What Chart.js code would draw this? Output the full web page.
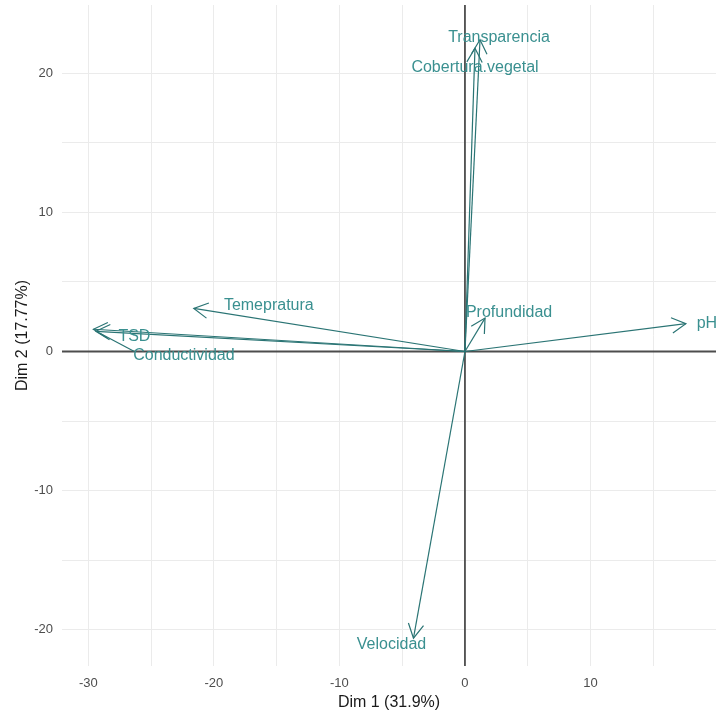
<!DOCTYPE html>
<html>
<head>
<meta charset="utf-8">
<script src="https://cdn.jsdelivr.net/npm/chart.js@4/dist/chart.umd.min.js"></script>
<style>
  body { margin: 0; background: #fff; }
  #chart { display: block; }
</style>
</head>
<body>
<canvas id="chart" width="716" height="713"></canvas>
<script>
// PCA variable loadings (Dim 1, Dim 2)
const variables = ["Transparencia", "Cobertura.vegetal", "Temepratura", "TSD", "Conductividad", "Profundidad", "pH", "Velocidad"];
const dim1 = [1.2, 0.8, -21.6, -29.6, -29.4, 1.6, 17.6, -4.1];
const dim2 = [22.4, 21.8, 3.1, 1.6, 1.45, 2.4, 2.0, -20.6];

// grid lines every 5, labels every 10
const xGridValues = [-30, -25, -20, -15, -10, -5, 0, 5, 10, 15];
const xTickLabels = [-30, -20, -10, 0, 10];
const yGridValues = [-20, -15, -10, -5, 0, 5, 10, 15, 20];
const yTickLabels = [-20, -10, 0, 10, 20];

const arrowColor = "#2a7474";
const labelColor = "#3a9090";
const fontFamily = "'Liberation Sans', Arial, sans-serif";

// label placement relative to arrow tip, in pixels (ggrepel-like offsets)
const labelOffsets = {
    "Transparencia": [19, -2],
    "Cobertura.vegetal": [0, 19],
    "Temepratura": [75, -3],
    "TSD": [41, 7],
    "Conductividad": [88, 24],
    "Profundidad": [24, -6],
    "pH": [21, 0],
    "Velocidad": [-22, 6],
};

const datasets = variables.map((name, i) => ({
    label: name,
    data: [{ x: 0, y: 0 }, { x: dim1[i], y: dim2[i] }],
    showLine: true,
    borderColor: arrowColor,
    borderWidth: 1.2,
    pointRadius: 0,
    pointHoverRadius: 0,
}));

// dark reference lines through the origin
const zeroLines = {
    id: "zeroLines",
    beforeDatasetsDraw(chart) {
        const { ctx, chartArea: a, scales: { x, y } } = chart;
        const px = x.getPixelForValue(0), py = y.getPixelForValue(0);
        ctx.save();
        ctx.strokeStyle = "#4d4d4d";
        ctx.lineWidth = 1.8;
        ctx.beginPath();
        ctx.moveTo(a.left, py);
        ctx.lineTo(a.right, py);
        ctx.moveTo(px, a.top);
        ctx.lineTo(px, a.bottom);
        ctx.stroke();
        ctx.restore();
    },
};

// arrow heads + text labels
const arrowPlugin = {
    id: "arrows",
    afterDatasetsDraw(chart) {
        const ctx = chart.ctx;
        ctx.save();
        chart.data.datasets.forEach((ds, i) => {
            const pts = chart.getDatasetMeta(i).data;
            const x0 = pts[0].x, y0 = pts[0].y, x1 = pts[1].x, y1 = pts[1].y;
            const ang = Math.atan2(y1 - y0, x1 - x0);
            const len = 16, spread = 0.5;
            ctx.strokeStyle = arrowColor;
            ctx.lineWidth = 1.2;
            ctx.beginPath();
            ctx.moveTo(x1 - len * Math.cos(ang - spread), y1 - len * Math.sin(ang - spread));
            ctx.lineTo(x1, y1);
            ctx.lineTo(x1 - len * Math.cos(ang + spread), y1 - len * Math.sin(ang + spread));
            ctx.stroke();

            const off = labelOffsets[ds.label] || [0, 0];
            const lx = x1 + off[0], ly = y1 + off[1];
            if (ds.label === "Conductividad") {
                // repel segment
                ctx.beginPath();
                ctx.moveTo(x1 + 4, y1 + 2);
                ctx.lineTo(lx - 50, ly - 4);
                ctx.stroke();
            }
            ctx.fillStyle = labelColor;
            ctx.font = "16px " + fontFamily;
            ctx.textAlign = "center";
            ctx.textBaseline = "middle";
            ctx.fillText(ds.label, lx, ly);
        });
        ctx.restore();
    },
};

new Chart(document.getElementById("chart").getContext("2d"), {
    type: "scatter",
    data: { datasets },
    plugins: [zeroLines, arrowPlugin],
    options: {
        responsive: false,
        animation: false,
        layout: { padding: { top: 5, right: 0, left: 0, bottom: 0 } },
        plugins: { legend: { display: false }, tooltip: { enabled: false } },
        scales: {
            x: {
                type: "linear",
                min: -32.1,
                max: 20,
                afterBuildTicks: (s) => { s.ticks = xGridValues.map((v) => ({ value: v })); },
                afterFit: (s) => { s.height = 47; s.paddingLeft = 0; s.paddingRight = 0; },
                border: { display: false },
                grid: { color: "#ebebeb", lineWidth: 1, drawTicks: false },
                ticks: {
                    padding: 10,
                    color: "#4d4d4d",
                    font: { family: fontFamily, size: 13 },
                    maxRotation: 0,
                    autoSkip: false,
                    callback: (v) => (xTickLabels.includes(v) ? String(v) : ""),
                },
                title: {
                    display: true,
                    text: "Dim 1 (31.9%)",
                    color: "#1a1a1a",
                    font: { family: fontFamily, size: 16 },
                    padding: { top: 0, bottom: 1 },
                },
            },
            y: {
                type: "linear",
                min: -22.6,
                max: 24.9,
                afterBuildTicks: (s) => { s.ticks = yGridValues.map((v) => ({ value: v })); },
                afterFit: (s) => { s.width = 62; s.paddingTop = 0; s.paddingBottom = 0; },
                border: { display: false },
                grid: { color: "#ebebeb", lineWidth: 1, drawTicks: false },
                ticks: {
                    padding: 9,
                    color: "#4d4d4d",
                    font: { family: fontFamily, size: 13 },
                    autoSkip: false,
                    callback: (v) => (yTickLabels.includes(v) ? String(v) : ""),
                },
                title: {
                    display: true,
                    text: "Dim 2 (17.77%)",
                    color: "#1a1a1a",
                    font: { family: fontFamily, size: 16 },
                    padding: { top: 13, bottom: 0 },
                },
            },
        },
    },
});
</script>
</body>
</html>
